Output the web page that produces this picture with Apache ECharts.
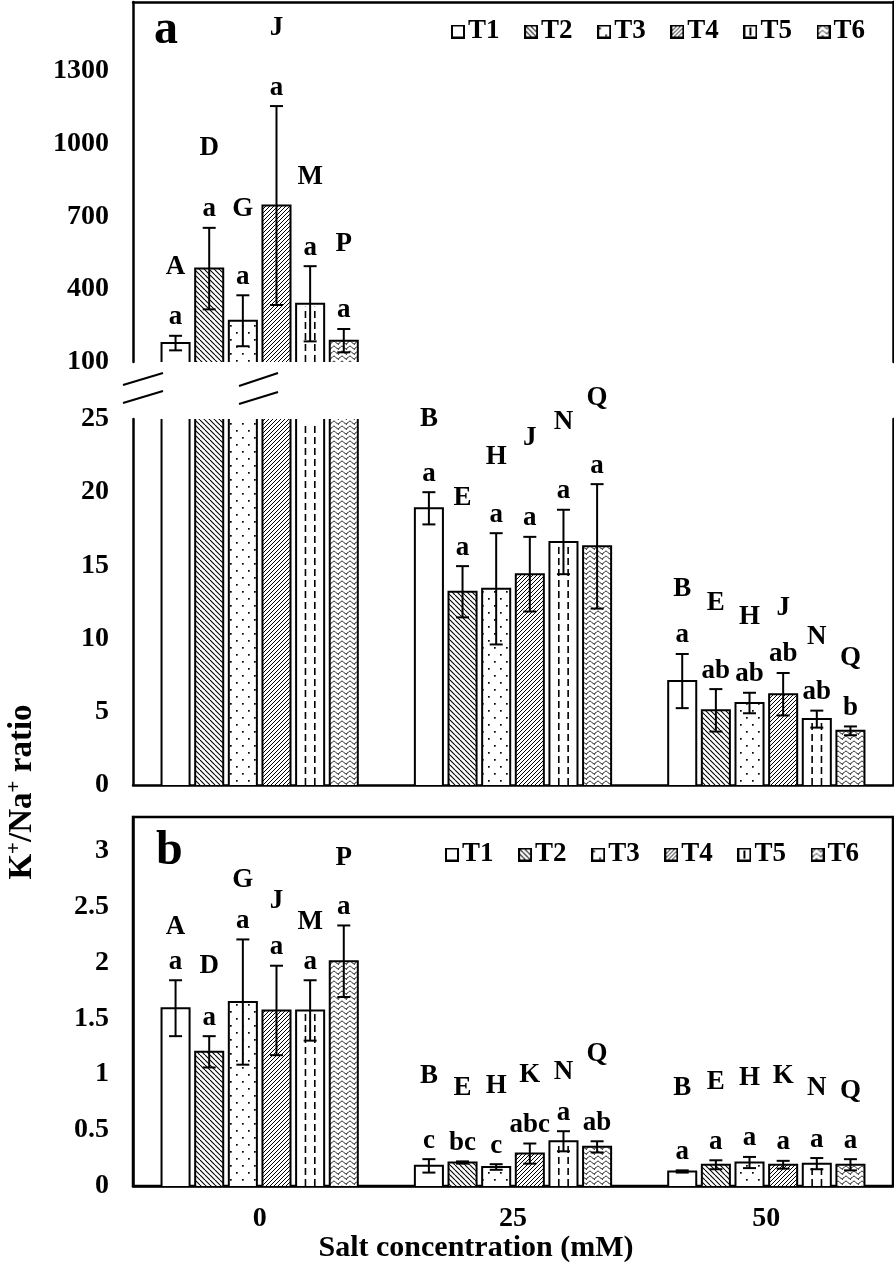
<!DOCTYPE html>
<html><head><meta charset="utf-8">
<script src="https://cdn.jsdelivr.net/npm/echarts@6/dist/echarts.min.js"></script>
<style>html,body{margin:0;padding:0;background:#fff}#c{width:894px;height:1273px}</style>
</head><body><div id="c"></div>
<script>
// ---------- data ----------
const categories = ['0', '25', '50'];
const treatments = ['T1', 'T2', 'T3', 'T4', 'T5', 'T6'];
// panel a (rows = T1..T6, columns = 0, 25, 50 mM)
const aMeans = [
  [178, 18.9, 7.1],
  [485, 13.2, 5.1],
  [270, 13.4, 5.6],
  [745, 14.4, 6.2],
  [340, 16.6, 4.5],
  [188, 16.3, 3.7]
];
const aErrors = [
  [30, 1.1, 1.85],
  [168, 1.75, 1.45],
  [105, 3.8, 0.7],
  [410, 2.55, 1.45],
  [155, 2.2, 0.58],
  [48, 4.25, 0.3]
];
const aLetters = [
  ['a', 'a', 'a'], ['a', 'a', 'ab'], ['a', 'a', 'ab'],
  ['a', 'a', 'ab'], ['a', 'a', 'ab'], ['a', 'a', 'b']
];
const aGroups = [
  ['A', 'B', 'B'], ['D', 'E', 'E'], ['G', 'H', 'H'],
  ['J', 'J', 'J'], ['M', 'N', 'N'], ['P', 'Q', 'Q']
];
const aGroupAt = [
  [490, 25.0, 13.4],
  [980, 19.6, 12.4],
  [730, 22.4, 11.5],
  [1477, 23.7, 12.1],
  [863, 24.8, 10.1],
  [585, 26.4, 8.7]
];
// panel b
const bMeans = [
  [1.59, 0.18, 0.13],
  [1.20, 0.21, 0.19],
  [1.645, 0.17, 0.21],
  [1.57, 0.29, 0.19],
  [1.57, 0.40, 0.20],
  [2.01, 0.35, 0.19]
];
const bErrors = [
  [0.25, 0.06, 0.01],
  [0.14, 0.01, 0.04],
  [0.56, 0.025, 0.05],
  [0.40, 0.09, 0.035],
  [0.27, 0.09, 0.05],
  [0.32, 0.05, 0.05]
];
const bLetters = [
  ['a', 'c', 'a'], ['a', 'bc', 'a'], ['a', 'c', 'a'],
  ['a', 'abc', 'a'], ['a', 'a', 'a'], ['a', 'ab', 'a']
];
const bGroups = [
  ['A', 'B', 'B'], ['D', 'E', 'E'], ['G', 'H', 'H'],
  ['J', 'K', 'K'], ['M', 'N', 'N'], ['P', 'Q', 'Q']
];
const bGroupAt = [
  [2.32, 0.98, 0.88],
  [1.97, 0.88, 0.93],
  [2.74, 0.89, 0.97],
  [2.55, 0.99, 0.98],
  [2.36, 1.02, 0.88],
  [2.93, 1.18, 0.85]
];
// axis settings
const aUpperTicks = [100, 400, 700, 1000, 1300];
const aLowerMax = 25;
const bTicks = [0, 0.5, 1, 1.5, 2, 2.5, 3];

// ---------- styles ----------
const SERIF = 'Liberation Serif';
function tile(w, h, draw) {
  const c = document.createElement('canvas');
  c.width = w; c.height = h;
  const g = c.getContext('2d');
  g.fillStyle = '#fff'; g.fillRect(0, 0, w, h);
  g.strokeStyle = '#000'; g.fillStyle = '#000';
  draw(g, w, h);
  return c;
}
const tiles = [
  tile(4, 4, () => {}),
  tile(5, 5, g => { g.lineWidth = 1.1; for (const k of [-5, 0, 5]) { g.beginPath(); g.moveTo(k, 0); g.lineTo(k + 5, 5); g.stroke(); } }),
  tile(12, 14, g => { g.fillRect(2, 3, 1.7, 1.7); g.fillRect(8, 10, 1.7, 1.7); }),
  tile(4, 4, g => { g.lineWidth = 1; for (const k of [-4, 0, 4]) { g.beginPath(); g.moveTo(k, 4); g.lineTo(k + 4, 0); g.stroke(); } }),
  tile(4, 4, () => {}),
  tile(8, 5, g => { g.lineWidth = 1; g.beginPath(); for (let x = 0; x <= 8; x += 0.5) { const y = 2.5 + 1.3 * Math.sin(2 * Math.PI * x / 8); if (x === 0) g.moveTo(x, y); else g.lineTo(x, y); } g.stroke(); g.fillRect(2, 4.3, 0.9, 0.9); })
];
const fills = tiles.map(c => ({ image: c, repeat: 'repeat' }));

function legendIcon(i) {
  const c = document.createElement('canvas');
  c.width = 14; c.height = 14;
  const g = c.getContext('2d');
  g.fillStyle = '#fff'; g.fillRect(0, 0, 14, 14);
  if (i !== 0 && i !== 4) { g.fillStyle = g.createPattern(tiles[i], 'repeat'); g.fillRect(0, 0, 14, 14); }
  if (i === 4) { g.fillStyle = '#000'; g.fillRect(6, 3, 2, 8); }
  g.strokeStyle = '#000'; g.lineWidth = 2; g.strokeRect(1, 1, 12, 12);
  return 'image://' + c.toDataURL();
}

const LW = 2;
function renderer(ti, letters, groups) {
  return function (params, api) {
    const c = api.value(0), mean = api.value(1), err = api.value(2), deco = api.value(3), gAt = api.value(4);
    const cs = params.coordSys;
    const band = api.size([1, 0])[0];
    const barW = band * 0.1107, step = band * 0.1328;
    const cx = api.coord([c, 0])[0] + (ti - 2.5) * step;
    const top = cs.y, bottom = cs.y + cs.height;
    let yTop = api.coord([c, mean])[1];
    let yBase = api.coord([c, 0])[1];
    const openTop = yTop < top;
    yTop = Math.max(yTop, top); yBase = Math.min(yBase, bottom);
    const x0 = cx - barW / 2, x1 = cx + barW / 2;
    const ch = [];
    ch.push({ type: 'rect', shape: { x: x0, y: yTop, width: barW, height: yBase - yTop }, style: { fill: fills[ti], stroke: null } });
    if (ti === 4) {
      for (const f of [1 / 3, 2 / 3]) {
        const xx = x0 + barW * f;
        ch.push({ type: 'line', shape: { x1: xx, y1: yBase, x2: xx, y2: yTop + 3 }, style: { stroke: '#000', lineWidth: 1.6, lineDash: [7, 4] } });
      }
    }
    if (openTop) {
      ch.push({ type: 'line', shape: { x1: x0, y1: yBase, x2: x0, y2: yTop }, style: { stroke: '#000', lineWidth: LW } });
      ch.push({ type: 'line', shape: { x1: x1, y1: yBase, x2: x1, y2: yTop }, style: { stroke: '#000', lineWidth: LW } });
    } else {
      ch.push({ type: 'polyline', shape: { points: [[x0, yBase], [x0, yTop], [x1, yTop], [x1, yBase]] }, style: { stroke: '#000', fill: null, lineWidth: LW } });
    }
    if (deco) {
      const yHi = api.coord([c, mean + err])[1], yLo = api.coord([c, mean - err])[1];
      const cap = 6.5;
      ch.push({ type: 'line', shape: { x1: cx, y1: yLo, x2: cx, y2: yHi }, style: { stroke: '#000', lineWidth: LW } });
      ch.push({ type: 'line', shape: { x1: cx - cap, y1: yHi, x2: cx + cap, y2: yHi }, style: { stroke: '#000', lineWidth: LW } });
      ch.push({ type: 'line', shape: { x1: cx - cap, y1: yLo, x2: cx + cap, y2: yLo }, style: { stroke: '#000', lineWidth: LW } });
      ch.push({ type: 'text', x: cx, y: yHi - 5, style: { text: letters[ti][c], fill: '#000', fontFamily: SERIF, fontWeight: 'bold', fontSize: 27, align: 'center', verticalAlign: 'bottom' } });
      const yG = api.coord([c, gAt])[1];
      ch.push({ type: 'text', x: cx, y: yG, style: { text: groups[ti][c], fill: '#000', fontFamily: SERIF, fontWeight: 'bold', fontSize: 27, align: 'center', verticalAlign: 'middle' } });
    }
    return { type: 'group', children: ch };
  };
}

const series = [];
treatments.forEach((name, ti) => {
  const up = [];
  const low = [];
  const bb = [];
  categories.forEach((cat, c) => {
    const m = aMeans[ti][c];
    if (m > aLowerMax) up.push([c, m, aErrors[ti][c], 1, aGroupAt[ti][c]]);
    low.push([c, m, aErrors[ti][c], m > aLowerMax ? 0 : 1, aGroupAt[ti][c]]);
    bb.push([c, bMeans[ti][c], bErrors[ti][c], 1, bGroupAt[ti][c]]);
  });
  series.push({ type: 'custom', name, xAxisIndex: 0, yAxisIndex: 0, data: up, renderItem: renderer(ti, aLetters, aGroups) });
  series.push({ type: 'custom', name, xAxisIndex: 2, yAxisIndex: 2, data: low, renderItem: renderer(ti, aLetters, aGroups) });
  series.push({ type: 'custom', name, xAxisIndex: 3, yAxisIndex: 4, data: bb, renderItem: renderer(ti, bLetters, bGroups) });
});

const axLine = { show: true, onZero: false, lineStyle: { color: '#000', width: 2.5 } };
const tickStyle = { color: '#000', width: 2 };
const labelFont = { fontFamily: SERIF, fontWeight: 'bold', fontSize: 28, color: '#000' };
const legendData = treatments.map((n, i) => ({ name: n, icon: legendIcon(i) }));
const legendBase = { orient: 'horizontal', padding: 0, itemWidth: 14, itemHeight: 14, itemGap: 24.6, selectedMode: false, data: legendData,
  textStyle: { fontFamily: SERIF, fontWeight: 'bold', fontSize: 27, color: '#000', padding: [0, 0, 0, -2] } };

const option = {
  animation: false,
  backgroundColor: '#fff',
  grid: [
    { left: 133, right: 1, top: 2, height: 360 },
    { left: 133, right: 1, top: 419, height: 366 },
    { left: 133, right: 1, top: 817, height: 369, show: true, borderColor: '#000', borderWidth: 2.5 }
  ],
  legend: [
    Object.assign({}, legendBase, { left: 451, top: 18 }),
    Object.assign({}, legendBase, { left: 445, top: 841 })
  ],
  xAxis: [
    { gridIndex: 0, type: 'category', data: categories, axisLine: { show: false }, axisTick: { show: false }, axisLabel: { show: false } },
    { gridIndex: 0, type: 'category', data: categories, position: 'top', axisLine: axLine, axisTick: { show: false }, axisLabel: { show: false } },
    { gridIndex: 1, type: 'category', data: categories, axisLine: axLine, axisTick: { inside: true, length: 9, lineStyle: tickStyle }, axisLabel: { show: false } },
    { gridIndex: 2, type: 'category', data: categories, axisLine: axLine, axisTick: { inside: true, length: 9, lineStyle: tickStyle }, axisLabel: Object.assign({ margin: 19 }, labelFont) }
  ],
  yAxis: [
    { gridIndex: 0, type: 'value', min: 100, max: 1584, axisLine: axLine, splitLine: { show: false },
      axisTick: { inside: true, length: 10, lineStyle: tickStyle, customValues: aUpperTicks.slice(1) },
      axisLabel: Object.assign({ margin: 24, customValues: aUpperTicks, formatter: v => String(v) }, labelFont) },
    { gridIndex: 0, type: 'value', position: 'right', min: 100, max: 1584, axisLine: axLine, splitLine: { show: false }, axisTick: { show: false }, axisLabel: { show: false } },
    { gridIndex: 1, type: 'value', min: 0, max: aLowerMax, interval: 5, axisLine: axLine, splitLine: { show: false },
      axisTick: { inside: true, length: 10, lineStyle: tickStyle },
      axisLabel: Object.assign({ margin: 24, formatter: v => String(v) }, labelFont) },
    { gridIndex: 1, type: 'value', position: 'right', min: 0, max: aLowerMax, axisLine: axLine, splitLine: { show: false }, axisTick: { show: false }, axisLabel: { show: false } },
    { gridIndex: 2, type: 'value', min: 0, max: 3.3, axisLine: axLine, splitLine: { show: false },
      axisTick: { inside: true, length: 10, lineStyle: tickStyle, customValues: bTicks.slice(1) },
      axisLabel: Object.assign({ margin: 24, customValues: bTicks, formatter: v => String(v) }, labelFont) }
  ],
  graphic: [
    { type: 'line', shape: { x1: 123, y1: 385, x2: 163, y2: 373 }, style: { stroke: '#000', lineWidth: 2 } },
    { type: 'line', shape: { x1: 123, y1: 403, x2: 163, y2: 391 }, style: { stroke: '#000', lineWidth: 2 } },
    { type: 'line', shape: { x1: 239, y1: 386, x2: 278, y2: 373 }, style: { stroke: '#000', lineWidth: 2 } },
    { type: 'line', shape: { x1: 239, y1: 404, x2: 278, y2: 392 }, style: { stroke: '#000', lineWidth: 2 } },
    { type: 'text', x: 154, y: 31, style: { text: 'a', fill: '#000', fontFamily: SERIF, fontWeight: 'bold', fontSize: 48, align: 'left', verticalAlign: 'middle' } },
    { type: 'text', x: 156, y: 852, style: { text: 'b', fill: '#000', fontFamily: SERIF, fontWeight: 'bold', fontSize: 48, align: 'left', verticalAlign: 'middle' } },
    { type: 'text', x: 476, y: 1248, style: { text: 'Salt concentration (mM)', fill: '#000', fontFamily: SERIF, fontWeight: 'bold', fontSize: 30, align: 'center', verticalAlign: 'middle' } },
    { type: 'text', x: 22, y: 792, rotation: Math.PI / 2,
      style: { text: '{m|K}{s|+}{m|/Na}{s|+}{m| ratio}', fill: '#000', align: 'center', verticalAlign: 'middle',
        rich: {
          m: { fontFamily: SERIF, fontWeight: 'bold', fontSize: 33, lineHeight: 36, fill: '#000' },
          s: { fontFamily: SERIF, fontWeight: 'bold', fontSize: 21, lineHeight: 21, verticalAlign: 'top', fill: '#000' }
        } } }
  ],
  series
};

const chart = echarts.init(document.getElementById('c'));
chart.setOption(option);
</script>
</body></html>
